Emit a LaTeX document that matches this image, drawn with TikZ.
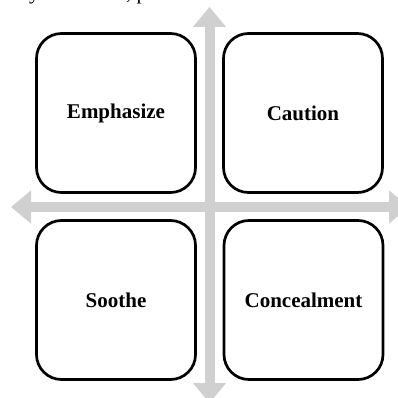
\documentclass[tikz,border=0pt]{standalone}
\usepackage{fontspec}
\setmainfont{Liberation Serif}
\usetikzlibrary{arrows.meta}
\definecolor{axisgray}{RGB}{208,208,208}
\begin{document}
\begin{tikzpicture}[x=1pt,y=-1pt,
  quad/.style={draw=black, line width=2.7pt, fill=white, rounded corners=25pt,
    minimum width=159pt, minimum height=159pt, inner sep=0pt,
    font=\fontsize{21}{25}\selectfont\bfseries},
  axis/.style={draw=axisgray, line width=10pt,
    {Triangle[length=20pt,width=32pt]}-{Triangle[length=20pt,width=32pt]}},
  frag/.style={font=\fontsize{21}{25}\selectfont, inner sep=0pt, anchor=base west}]
\useasboundingbox (0,0) rectangle (398,398);
% cut-off text line above
\node[frag] (fy) at (29,0) {y};
\node[frag] (fp) at (126,0) {, p};
% axes
\coordinate (top) at (209.5,7);
\coordinate (bot) at (209.5,403);
\coordinate (lft) at (11,207);
\coordinate (rgt) at (409,207);
\draw[axis] (top) -- (bot);
\draw[axis] (lft) -- (rgt);
% quadrants
\node[quad] (emph) at (116,113) {Emphasize};
\node[quad] (caut) at (303,113) {Caution};
\node[quad] (soot) at (116,300) {Soothe};
\node[quad] (conc) at (303.5,300) {Concealment};
\end{tikzpicture}
\end{document}
